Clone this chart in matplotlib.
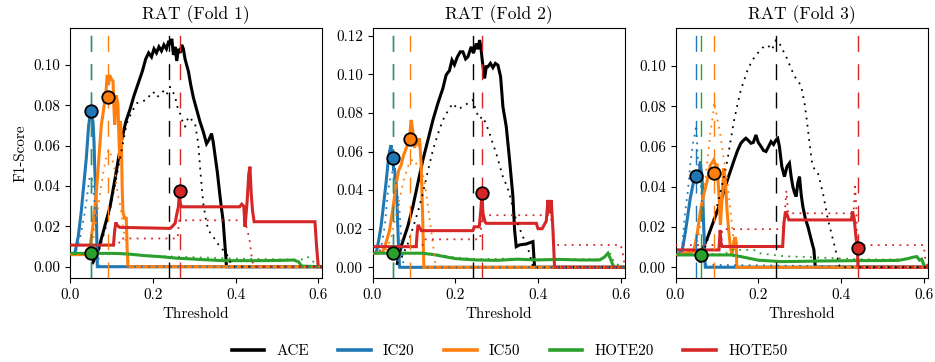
import numpy as np
import matplotlib
matplotlib.use("Agg")
import matplotlib.pyplot as plt
from matplotlib.lines import Line2D

plt.rcParams["font.family"] = "serif"
plt.rcParams["font.serif"] = ["cmr10", "DejaVu Serif"]
plt.rcParams["mathtext.fontset"] = "cm"
plt.rcParams["axes.formatter.use_mathtext"] = True
plt.rcParams["font.size"] = 10.9

SERIES = ["ACE", "IC20", "IC50", "HOTE20", "HOTE50"]
COLORS = ["black", "#1f77b4", "#ff7f0e", "#2ca02c", "#d62728"]
TITLES = ["RAT (Fold 1)", "RAT (Fold 2)", "RAT (Fold 3)"]

# ---------------- Fold 1 ----------------
F1_ACE_T = [0.055, 0.065, 0.08, 0.097, 0.11, 0.125, 0.135, 0.145, 0.155, 0.165, 0.175, 0.183, 0.19, 0.197, 0.203, 0.209, 0.215, 0.221, 0.227, 0.233, 0.239, 0.242, 0.246, 0.25, 0.254, 0.258, 0.262, 0.266, 0.27, 0.274, 0.278, 0.282, 0.286, 0.292, 0.298, 0.306, 0.314, 0.322, 0.33, 0.336, 0.342, 0.346, 0.35, 0.356, 0.362, 0.366, 0.37, 0.374, 0.377, 0.378, 0.61]
F1_ACE_V = [0.002, 0.006, 0.017, 0.030, 0.045, 0.063, 0.072, 0.078, 0.085, 0.091, 0.097, 0.103, 0.106, 0.104, 0.108, 0.106, 0.109, 0.107, 0.110, 0.108, 0.112, 0.110, 0.113, 0.105, 0.109, 0.102, 0.108, 0.106, 0.110, 0.108, 0.103, 0.100, 0.097, 0.090, 0.084, 0.078, 0.072, 0.067, 0.061, 0.063, 0.066, 0.062, 0.056, 0.047, 0.036, 0.029, 0.023, 0.012, 0.004, 0.0, 0.0]
F1_ACE_DT = [0.055, 0.07, 0.09, 0.11, 0.125, 0.137, 0.15, 0.161, 0.172, 0.185, 0.193, 0.201, 0.209, 0.217, 0.225, 0.233, 0.2416, 0.248, 0.254, 0.26, 0.266, 0.272, 0.278, 0.284, 0.29, 0.296, 0.302, 0.31, 0.316, 0.322, 0.328, 0.334, 0.346, 0.362, 0.378, 0.39, 0.395, 0.61]
F1_ACE_DV = [0.002, 0.008, 0.022, 0.042, 0.058, 0.071, 0.077, 0.081, 0.082, 0.0826, 0.085, 0.0868, 0.084, 0.0851, 0.087, 0.085, 0.0892, 0.087, 0.0843, 0.079, 0.076, 0.072, 0.0694, 0.073, 0.0744, 0.072, 0.0711, 0.061, 0.045, 0.0314, 0.024, 0.0182, 0.0149, 0.0099, 0.0066, 0.001, 0.0, 0.0]
F1_IC20_T = [0.0, 0.012, 0.02, 0.027, 0.033, 0.0395, 0.045, 0.05, 0.053, 0.0556, 0.058, 0.0596, 0.062, 0.0636, 0.066, 0.61]
F1_IC20_V = [0.006, 0.007, 0.015, 0.027, 0.040, 0.054, 0.070, 0.077, 0.074, 0.072, 0.062, 0.050, 0.038, 0.027, 0.0, 0.0]
F1_IC20_DT = [0.0, 0.015, 0.025, 0.035, 0.042, 0.048, 0.052, 0.056, 0.06, 0.064, 0.068, 0.072, 0.61]
F1_IC20_DV = [0.006, 0.008, 0.015, 0.026, 0.036, 0.045, 0.044, 0.040, 0.030, 0.018, 0.006, 0.0, 0.0]
F1_IC50_T = [0.0, 0.04, 0.043, 0.05, 0.0556, 0.062, 0.068, 0.072, 0.0757, 0.08, 0.0837, 0.087, 0.09, 0.093, 0.0958, 0.1, 0.104, 0.106, 0.108, 0.112, 0.116, 0.118, 0.12, 0.122, 0.124, 0.126, 0.128, 0.132, 0.136, 0.138, 0.14, 0.61]
F1_IC50_V = [0.006, 0.006, 0.0057, 0.012, 0.0206, 0.033, 0.0488, 0.060, 0.0703, 0.076, 0.0818, 0.087, 0.0951, 0.090, 0.095, 0.093, 0.092, 0.080, 0.0703, 0.085, 0.080, 0.066, 0.0537, 0.072, 0.065, 0.040, 0.027, 0.024, 0.024, 0.010, 0.0, 0.0]
F1_IC50_DT = [0.0, 0.045, 0.055, 0.065, 0.075, 0.085, 0.093, 0.1, 0.108, 0.115, 0.122, 0.128, 0.135, 0.14, 0.145, 0.61]
F1_IC50_DV = [0.006, 0.006, 0.012, 0.025, 0.040, 0.052, 0.058, 0.055, 0.048, 0.036, 0.030, 0.020, 0.012, 0.004, 0.0, 0.0]
F1_HOTE20_T = [0.0, 0.1, 0.12, 0.145, 0.18, 0.217, 0.26, 0.314, 0.37, 0.42, 0.459, 0.5, 0.54, 0.552, 0.56, 0.61]
F1_HOTE20_V = [0.0066, 0.0066, 0.0065, 0.0062, 0.0055, 0.005, 0.0042, 0.0036, 0.003, 0.003, 0.003, 0.0031, 0.0033, 0.0025, 0.0003, 0.0]
F1_HOTE20_DT = [0.0, 0.12, 0.16, 0.22, 0.28, 0.34, 0.4, 0.46, 0.52, 0.56, 0.57, 0.58, 0.59, 0.595, 0.61]
F1_HOTE20_DV = [0.0068, 0.0068, 0.0058, 0.0052, 0.0048, 0.0044, 0.004, 0.0038, 0.0036, 0.0036, 0.005, 0.0045, 0.002, 0.0, 0.0]
F1_HOTE50_T = [0.0, 0.105, 0.108, 0.111, 0.113, 0.12, 0.2416, 0.245, 0.254, 0.258, 0.262, 0.264, 0.267, 0.27, 0.41, 0.415, 0.42, 0.423, 0.428, 0.432, 0.435, 0.438, 0.441, 0.445, 0.592, 0.596, 0.6, 0.61]
F1_HOTE50_V = [0.0107, 0.0107, 0.018, 0.022, 0.0207, 0.0195, 0.019, 0.0195, 0.0215, 0.026, 0.0297, 0.036, 0.031, 0.0297, 0.0297, 0.031, 0.030, 0.0198, 0.032, 0.046, 0.0496, 0.036, 0.028, 0.0223, 0.0223, 0.010, 0.0, 0.0]
F1_HOTE50_DT = [0.0, 0.118, 0.121, 0.26, 0.264, 0.42, 0.428, 0.435, 0.44, 0.445, 0.61]
F1_HOTE50_DV = [0.0107, 0.0107, 0.014, 0.014, 0.023, 0.023, 0.019, 0.012, 0.003, 0.0, 0.0]
F1_BEST_T = [0.24, 0.05, 0.093, 0.05, 0.266]
F1_BEST_V = [None, 0.077, 0.084, 0.0066, 0.0375]

# ---------------- Fold 2 ----------------
F2_ACE_T = [0.06, 0.069, 0.085, 0.0975, 0.11, 0.1217, 0.134, 0.146, 0.158, 0.17, 0.178, 0.186, 0.192, 0.198, 0.205, 0.212, 0.2185, 0.225, 0.2306, 0.235, 0.2386, 0.244, 0.2507, 0.255, 0.2588, 0.262, 0.2652, 0.2709, 0.275, 0.279, 0.285, 0.291, 0.297, 0.3031, 0.3096, 0.3152, 0.3233, 0.3313, 0.3394, 0.3434, 0.3474, 0.3555, 0.3716, 0.3877, 0.3917, 0.61]
F2_ACE_V = [0.002, 0.0107, 0.021, 0.0314, 0.044, 0.0556, 0.066, 0.0763, 0.085, 0.0927, 0.0997, 0.102, 0.1074, 0.105, 0.109, 0.1117, 0.1117, 0.108, 0.1091, 0.112, 0.1143, 0.111, 0.116, 0.113, 0.1178, 0.114, 0.1074, 0.0979, 0.104, 0.104, 0.1057, 0.1035, 0.1057, 0.1048, 0.0988, 0.0832, 0.0729, 0.0556, 0.0366, 0.0193, 0.0107, 0.0116, 0.0121, 0.0133, 0.0, 0.0]
F2_ACE_DT = [0.06, 0.07, 0.085, 0.1, 0.11, 0.1217, 0.134, 0.146, 0.158, 0.17, 0.182, 0.194, 0.206, 0.2185, 0.23, 0.2426, 0.2507, 0.2588, 0.2668, 0.275, 0.283, 0.291, 0.299, 0.307, 0.315, 0.323, 0.331, 0.339, 0.347, 0.3636, 0.3797, 0.388, 0.61]
F2_ACE_DV = [0.002, 0.005, 0.012, 0.022, 0.029, 0.0383, 0.050, 0.0608, 0.069, 0.0763, 0.081, 0.085, 0.082, 0.0832, 0.085, 0.0867, 0.0807, 0.077, 0.0781, 0.074, 0.0694, 0.064, 0.0591, 0.053, 0.047, 0.043, 0.0383, 0.031, 0.0245, 0.0159, 0.0073, 0.0, 0.0]
F2_IC20_T = [0.0, 0.009, 0.015, 0.021, 0.027, 0.033, 0.037, 0.041, 0.045, 0.047, 0.049, 0.051, 0.053, 0.055, 0.057, 0.059, 0.061, 0.063, 0.065, 0.066, 0.61]
F2_IC20_V = [0.007, 0.0075, 0.014, 0.0219, 0.033, 0.0444, 0.053, 0.060, 0.0633, 0.055, 0.060, 0.050, 0.0513, 0.047, 0.044, 0.035, 0.0219, 0.010, 0.0012, 0.0, 0.0]
F2_IC20_DT = [0.0, 0.02, 0.03, 0.037, 0.043, 0.049, 0.053, 0.057, 0.061, 0.065, 0.0693, 0.073, 0.076, 0.61]
F2_IC20_DV = [0.007, 0.009, 0.022, 0.0392, 0.046, 0.050, 0.047, 0.043, 0.037, 0.030, 0.016, 0.0047, 0.0, 0.0]
F2_IC50_T = [0.0, 0.025, 0.033, 0.041, 0.049, 0.057, 0.063, 0.0693, 0.075, 0.0814, 0.0855, 0.0895, 0.0935, 0.0975, 0.1016, 0.1056, 0.1096, 0.1136, 0.1177, 0.1217, 0.1241, 0.61]
F2_IC50_V = [0.007, 0.0081, 0.013, 0.019, 0.030, 0.043, 0.050, 0.0531, 0.058, 0.0617, 0.064, 0.0669, 0.0764, 0.0703, 0.062, 0.0651, 0.064, 0.0669, 0.0531, 0.0219, 0.0, 0.0]
F2_IC50_DT = [0.0, 0.03, 0.045, 0.06, 0.075, 0.09, 0.1, 0.11, 0.118, 0.125, 0.13, 0.138, 0.145, 0.15, 0.153, 0.61]
F2_IC50_DV = [0.007, 0.008, 0.015, 0.030, 0.045, 0.055, 0.056, 0.052, 0.050, 0.045, 0.038, 0.025, 0.014, 0.005, 0.0, 0.0]
F2_HOTE20_T = [0.0, 0.1217, 0.15, 0.2, 0.25, 0.3, 0.35, 0.4, 0.45, 0.5, 0.549, 0.56, 0.569, 0.576, 0.583, 0.61]
F2_HOTE20_V = [0.0073, 0.0073, 0.0065, 0.0045, 0.0038, 0.0036, 0.0042, 0.0038, 0.0041, 0.0038, 0.0038, 0.0052, 0.0073, 0.004, 0.0, 0.0]
F2_HOTE20_DT = [0.0, 0.12, 0.16, 0.2, 0.26, 0.32, 0.38, 0.44, 0.5, 0.55, 0.565, 0.575, 0.585, 0.61]
F2_HOTE20_DV = [0.0075, 0.0075, 0.0066, 0.005, 0.0042, 0.0045, 0.0043, 0.004, 0.0042, 0.0042, 0.006, 0.007, 0.002, 0.0]
F2_HOTE50_T = [0.0, 0.1056, 0.108, 0.11, 0.114, 0.118, 0.2426, 0.246, 0.258, 0.262, 0.2644, 0.267, 0.272, 0.275, 0.396, 0.4, 0.41, 0.42, 0.424, 0.428, 0.432, 0.436, 0.44, 0.61]
F2_HOTE50_V = [0.0107, 0.0107, 0.018, 0.022, 0.0205, 0.019, 0.019, 0.021, 0.021, 0.030, 0.0387, 0.028, 0.0235, 0.0228, 0.0228, 0.020, 0.020, 0.024, 0.0349, 0.028, 0.0349, 0.020, 0.0, 0.0]
F2_HOTE50_DT = [0.0, 0.12, 0.125, 0.26, 0.265, 0.43, 0.436, 0.44, 0.6, 0.606, 0.61]
F2_HOTE50_DV = [0.0107, 0.0107, 0.0145, 0.0145, 0.027, 0.027, 0.020, 0.0116, 0.0116, 0.006, 0.0]
F2_BEST_T = [0.2426, 0.049, 0.0895, 0.049, 0.2644]
F2_BEST_V = [None, 0.0565, 0.0667, 0.0073, 0.0387]

# ---------------- Fold 3 ----------------
F3_ACE_T = [0.06, 0.0648, 0.078, 0.0932, 0.11, 0.1256, 0.1418, 0.15, 0.158, 0.164, 0.17, 0.176, 0.1823, 0.188, 0.1944, 0.2, 0.2066, 0.2127, 0.2187, 0.225, 0.2309, 0.237, 0.243, 0.247, 0.2511, 0.257, 0.2633, 0.2694, 0.2754, 0.2795, 0.2835, 0.2876, 0.2916, 0.2957, 0.2997, 0.3038, 0.3078, 0.314, 0.32, 0.3281, 0.3345, 0.3378, 0.61]
F3_ACE_V = [0.003, 0.0086, 0.015, 0.0235, 0.033, 0.0434, 0.0533, 0.058, 0.0616, 0.063, 0.0641, 0.063, 0.0616, 0.062, 0.0657, 0.062, 0.060, 0.058, 0.0575, 0.060, 0.0624, 0.061, 0.0633, 0.064, 0.060, 0.050, 0.045, 0.050, 0.0517, 0.045, 0.0401, 0.037, 0.0351, 0.042, 0.045, 0.036, 0.0301, 0.024, 0.0202, 0.0136, 0.0086, 0.0, 0.0]
F3_ACE_DT = [0.06, 0.08, 0.1, 0.115, 0.1256, 0.134, 0.1418, 0.15, 0.158, 0.166, 0.1742, 0.186, 0.1985, 0.21, 0.2228, 0.233, 0.243, 0.2511, 0.259, 0.2673, 0.2876, 0.2957, 0.3038, 0.3119, 0.318, 0.324, 0.33, 0.3362, 0.3443, 0.3564, 0.3686, 0.3848, 0.3969, 0.61]
F3_ACE_DV = [0.003, 0.015, 0.030, 0.043, 0.0533, 0.064, 0.0732, 0.081, 0.0881, 0.093, 0.098, 0.103, 0.1063, 0.109, 0.1104, 0.108, 0.1129, 0.1113, 0.108, 0.1047, 0.0947, 0.093, 0.0897, 0.0815, 0.072, 0.0616, 0.052, 0.0484, 0.0467, 0.0368, 0.0235, 0.0103, 0.0, 0.0]
F3_IC20_T = [0.0, 0.0154, 0.022, 0.0275, 0.0356, 0.0437, 0.048, 0.0518, 0.0559, 0.058, 0.06, 0.062, 0.064, 0.066, 0.068, 0.072, 0.61]
F3_IC20_V = [0.006, 0.0078, 0.015, 0.0226, 0.0342, 0.0425, 0.045, 0.0475, 0.0442, 0.048, 0.0525, 0.048, 0.0459, 0.035, 0.021, 0.0, 0.0]
F3_IC20_DT = [0.0, 0.015, 0.0235, 0.03, 0.0356, 0.04, 0.0437, 0.047, 0.05, 0.053, 0.056, 0.06, 0.064, 0.068, 0.072, 0.61]
F3_IC20_DV = [0.006, 0.008, 0.0277, 0.038, 0.0508, 0.058, 0.064, 0.066, 0.0706, 0.0575, 0.050, 0.0459, 0.032, 0.0177, 0.0012, 0.0]
F3_IC50_T = [0.0, 0.0437, 0.052, 0.06, 0.068, 0.0762, 0.0843, 0.0884, 0.0924, 0.0965, 0.1005, 0.1045, 0.1085, 0.1126, 0.1166, 0.1207, 0.1247, 0.1288, 0.1328, 0.1369, 0.1409, 0.144, 0.147, 0.148, 0.61]
F3_IC50_V = [0.006, 0.0078, 0.016, 0.0277, 0.036, 0.0425, 0.0508, 0.052, 0.0533, 0.051, 0.0508, 0.0376, 0.021, 0.0342, 0.0492, 0.0425, 0.0277, 0.0177, 0.0094, 0.0061, 0.0127, 0.015, 0.012, 0.0, 0.0]
F3_IC50_DT = [0.0, 0.045, 0.052, 0.06, 0.068, 0.0762, 0.0843, 0.0907, 0.094, 0.0975, 0.1005, 0.1045, 0.1085, 0.1126, 0.1166, 0.1207, 0.1247, 0.1328, 0.1409, 0.149, 0.152, 0.61]
F3_IC50_DV = [0.006, 0.0078, 0.012, 0.0203, 0.035, 0.051, 0.067, 0.0757, 0.082, 0.078, 0.0741, 0.070, 0.0657, 0.060, 0.054, 0.049, 0.0442, 0.0277, 0.0127, 0.0012, 0.0, 0.0]
F3_HOTE20_T = [0.0, 0.134, 0.16, 0.2, 0.255, 0.3, 0.35, 0.4, 0.45, 0.5, 0.539, 0.56, 0.575, 0.583, 0.59, 0.595, 0.603, 0.61]
F3_HOTE20_V = [0.0061, 0.0061, 0.0052, 0.0035, 0.0028, 0.0029, 0.0031, 0.0032, 0.0033, 0.0033, 0.0034, 0.0042, 0.005, 0.0053, 0.0035, 0.004, 0.0, 0.0]
F3_HOTE20_DT = [0.0, 0.12, 0.134, 0.19, 0.2, 0.26, 0.32, 0.38, 0.44, 0.5, 0.55, 0.58, 0.59, 0.6, 0.61]
F3_HOTE20_DV = [0.0065, 0.0065, 0.0086, 0.0086, 0.007, 0.0055, 0.005, 0.0045, 0.004, 0.0038, 0.004, 0.0055, 0.004, 0.001, 0.0]
F3_HOTE50_T = [0.0, 0.105, 0.108, 0.11, 0.113, 0.116, 0.259, 0.262, 0.266, 0.27, 0.274, 0.425, 0.428, 0.432, 0.436, 0.4398, 0.441, 0.61]
F3_HOTE50_V = [0.0086, 0.0086, 0.0185, 0.012, 0.0103, 0.0103, 0.0103, 0.022, 0.0277, 0.026, 0.0235, 0.0235, 0.0277, 0.024, 0.015, 0.0094, 0.0, 0.0]
F3_HOTE50_DT = [0.0, 0.11, 0.113, 0.26, 0.264, 0.268, 0.272, 0.43, 0.434, 0.437, 0.44, 0.443, 0.6, 0.603, 0.61]
F3_HOTE50_DV = [0.011, 0.011, 0.0189, 0.0189, 0.0268, 0.038, 0.0268, 0.0268, 0.040, 0.030, 0.0, 0.011, 0.011, 0.005, 0.0]
F3_BEST_T = [0.243, 0.05, 0.0937, 0.0624, 0.44]
F3_BEST_V = [None, 0.0455, 0.047, 0.0061, 0.0094]

FOLDS = [
    dict(solid=[(F1_ACE_T, F1_ACE_V), (F1_IC20_T, F1_IC20_V), (F1_IC50_T, F1_IC50_V), (F1_HOTE20_T, F1_HOTE20_V), (F1_HOTE50_T, F1_HOTE50_V)],
         dotted=[(F1_ACE_DT, F1_ACE_DV), (F1_IC20_DT, F1_IC20_DV), (F1_IC50_DT, F1_IC50_DV), (F1_HOTE20_DT, F1_HOTE20_DV), (F1_HOTE50_DT, F1_HOTE50_DV)],
         best_t=F1_BEST_T, best_v=F1_BEST_V, yticks=[0.0, 0.02, 0.04, 0.06, 0.08, 0.10], ylim=(-0.00575, 0.1185)),
    dict(solid=[(F2_ACE_T, F2_ACE_V), (F2_IC20_T, F2_IC20_V), (F2_IC50_T, F2_IC50_V), (F2_HOTE20_T, F2_HOTE20_V), (F2_HOTE50_T, F2_HOTE50_V)],
         dotted=[(F2_ACE_DT, F2_ACE_DV), (F2_IC20_DT, F2_IC20_DV), (F2_IC50_DT, F2_IC50_DV), (F2_HOTE20_DT, F2_HOTE20_DV), (F2_HOTE50_DT, F2_HOTE50_DV)],
         best_t=F2_BEST_T, best_v=F2_BEST_V, yticks=[0.0, 0.02, 0.04, 0.06, 0.08, 0.10, 0.12], ylim=(-0.0057, 0.1242)),
    dict(solid=[(F3_ACE_T, F3_ACE_V), (F3_IC20_T, F3_IC20_V), (F3_IC50_T, F3_IC50_V), (F3_HOTE20_T, F3_HOTE20_V), (F3_HOTE50_T, F3_HOTE50_V)],
         dotted=[(F3_ACE_DT, F3_ACE_DV), (F3_IC20_DT, F3_IC20_DV), (F3_IC50_DT, F3_IC50_DV), (F3_HOTE20_DT, F3_HOTE20_DV), (F3_HOTE50_DT, F3_HOTE50_DV)],
         best_t=F3_BEST_T, best_v=F3_BEST_V, yticks=[0.0, 0.02, 0.04, 0.06, 0.08, 0.10], ylim=(-0.0055, 0.119)),
]

W, H = 935, 362
fig = plt.figure(figsize=(W / 100, H / 100), dpi=100)
lefts = [70, 372.5, 675.5]
ax_w = 252.4
bottom_px, top_px = 278.3, 27.7

for i, fold in enumerate(FOLDS):
    ax = fig.add_axes([lefts[i] / W, 1 - bottom_px / H, ax_w / W, (bottom_px - top_px) / H])
    for (t, v), c in zip(fold["solid"], COLORS):
        ax.plot(t, v, color=c, lw=2.2, solid_joinstyle="miter", zorder=2)
    for (t, v), c in zip(fold["dotted"], COLORS):
        ax.plot(t, v, color=c, lw=1.3, linestyle=(0, (1, 3)), zorder=3)
    for bt, c in zip(fold["best_t"], COLORS):
        ax.axvline(bt, color=c, lw=1.0, linestyle=(0, (11.5, 8.9)), zorder=4)
    for bt, bv, c in zip(fold["best_t"], fold["best_v"], COLORS):
        if bv is not None:
            ax.plot([bt], [bv], "o", color=c, mec="black", mew=1.3, ms=9, zorder=6)
    ax.set_xlim(0, 0.61)
    ax.set_ylim(*fold["ylim"])
    ax.set_xticks([0.0, 0.2, 0.4, 0.6])
    ax.set_xticklabels(["0.0", "0.2", "0.4", "0.6"])
    ax.set_yticks(fold["yticks"])
    ax.set_yticklabels(["%.2f" % y for y in fold["yticks"]])
    ax.set_title(TITLES[i], fontsize=12.6)
    ax.set_xlabel("Threshold")
    if i == 0:
        ax.set_ylabel("F1-Score")

handles = [Line2D([0], [0], color=c, lw=2.6) for c in COLORS]
fig.legend(handles, SERIES, loc="center", bbox_to_anchor=(509.5 / W, 1 - 351 / H), ncol=5,
           frameon=False, handlelength=2.15, handletextpad=0.8, columnspacing=1.95, fontsize=10.9)

fig.savefig("out.png", dpi=100)
